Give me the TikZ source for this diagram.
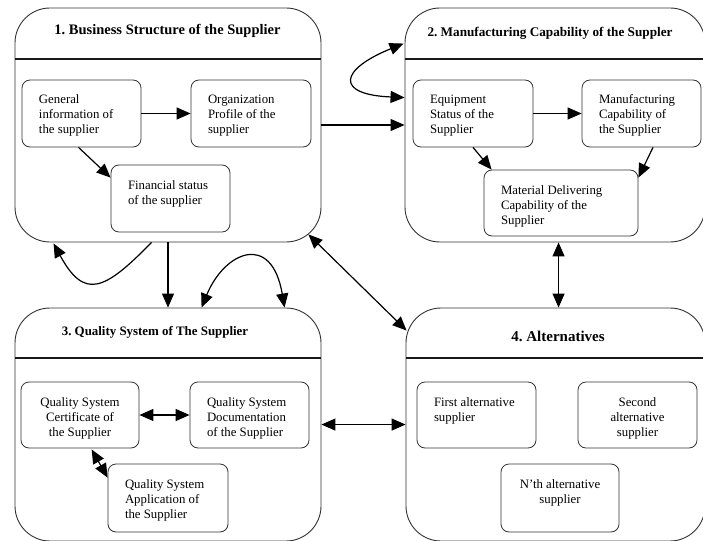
\documentclass[tikz,border=0pt]{standalone}
\usepackage{fontspec}
\setmainfont{Liberation Serif}
\usetikzlibrary{arrows.meta,calc}
\frenchspacing

% text inside a sub-box: fixed size, first baseline 24pt below the top
\newcommand\boxleft[3][67pt]{\parbox[c][#1][t]{#2}{\raggedright\leftskip=17pt\rule{0pt}{24pt}#3}}
\newcommand\boxmid[3][67pt]{\parbox[c][#1][t]{#2}{\centering\rule{0pt}{24pt}#3}}

\begin{document}
\begin{tikzpicture}[x=1pt,y=-1pt,
  group/.style={draw=black!80, line width=0.9pt, rounded corners=35pt, inner sep=0pt},
  sub/.style={draw=black!80, line width=0.8pt, rounded corners=8pt, inner sep=0pt,
    font=\fontsize{12.8}{15}\selectfont},
  rule/.style={draw=black!90, line width=1.1pt},
  tip/.style={Triangle[length=14pt,width=12pt]},
  link/.style={line width=1.2pt, -{Triangle[length=14pt,width=12pt]}},
  both/.style={line width=1.2pt, {Triangle[length=14pt,width=12pt]}-{Triangle[length=14pt,width=12pt]}}
]
\useasboundingbox (0,0) rectangle (703,540);
\clip (0,0) rectangle (703,540);

% the four groups
\node[group, minimum width=306pt, minimum height=234pt] (b1) at (168,125) {};
\node[group, minimum width=300pt, minimum height=234pt] (b2) at (555,125) {};
\node[group, minimum width=306pt, minimum height=233pt] (b3) at (168,424.5) {};
\node[group, minimum width=299pt, minimum height=233pt] (b4) at (555.5,424.5) {};

\draw[rule] (b1.west |- 0,59) -- (b1.east |- 0,59);
\draw[rule] (b2.west |- 0,59) -- (b2.east |- 0,59);
\draw[rule] (b3.west |- 0,358) -- (b3.east |- 0,358);
\draw[rule] (b4.west |- 0,358) -- (b4.east |- 0,358);

\node[font=\fontsize{14.5}{16}\selectfont\bfseries] (t1) at (167.5,31) {1. Business Structure of the Supplier};
\node[font=\fontsize{13.2}{15}\selectfont\bfseries] (t2) at (550,33) {2. Manufacturing Capability of the Suppler};
\node[font=\fontsize{12.9}{15}\selectfont\bfseries] (t3) at (155,332) {3. Quality System of The Supplier};
\node[font=\fontsize{15}{17}\selectfont\bfseries] (t4) at (558,336) {4. Alternatives};

% 1. business structure
\node[sub] (gen) at (81.5,113.5) {\boxleft{119pt}{General\\information of\\the supplier}};
\node[sub] (org) at (251,113.5) {\boxleft{120pt}{Organization\\Profile of the\\supplier}};
\node[sub] (fin) at (170.5,198.5) {\boxleft{119pt}{Financial status\\of the supplier}};

% 2. manufacturing capability
\node[sub] (equip) at (473,113.5) {\boxleft{120pt}{Equipment\\Status of the\\Supplier}};
\node[sub] (manu) at (641.5,113.5) {\boxleft{119pt}{Manufacturing\\Capability of\\the Supplier}};
\node[sub] (mat) at (561,203) {\boxleft[66pt]{154pt}{Material Delivering\\Capability of the\\Supplier}};

% 3. quality system
\node[sub] (cert) at (80,415) {\boxmid[66pt]{118pt}{Quality System\\Certificate of\\the Supplier}};
\node[sub] (doc) at (249.5,415) {\boxleft[66pt]{119pt}{Quality System\\Documentation\\of the Supplier}};
\node[sub] (app) at (168,498) {\boxleft[68pt]{120pt}{Quality System\\Application of\\the Supplier}};

% 4. alternatives
\node[sub] (first) at (476.5,415) {\boxleft[66pt]{119pt}{First alternative\\supplier}};
\node[sub] (second) at (637.5,415) {\boxmid[66pt]{119pt}{Second\\alternative\\supplier}};
\node[sub] (nth) at (560,498) {\boxmid[68pt]{118pt}{N'th alternative\\supplier}};

% links inside the groups
\draw[link] (gen.east) -- (org.west);
\draw[link] ($(gen.south)+(-3,0)$) -- ($(fin.north west)+(0,13)$);
\draw[link] (equip.east) -- (manu.west);
\draw[link] (equip.south) -- ($(mat.north west)+(8,0)$);
\draw[link] ($(manu.south)+(11.5,0)$) -- ($(mat.north east)+(0,8)$);
\draw[both] (cert.east) -- (doc.west);
\draw[both] ($(cert.south west)+(71,1)$) -- ($(app.north west)+(0,14)$);

% links between the groups
\draw[link] (b1.east) -- (b2.west);
\draw[link] (b1.south) -- (b3.north);
\draw[both] ($(b1.south east)+(-13,-8)$) -- ($(b4.north west)+(1,23)$);
\draw[both] ($(b2.south west)+(154,0)$) -- ($(b4.north west)+(153,0)$);
\draw[both] ($(b3.north east)+(0,117)$) -- ($(b4.north west)+(0,117)$);

% feedback loops
\draw[both] ($(b2.north west)+(-1,36)$) .. controls +(-64,26) and +(-70,-3) .. ($(b2.north west)+(0,90)$);
\draw[link] ($(b1.south west)+(137,0)$) .. controls +(-47,48) and +(31,57) .. ($(b1.south west)+(39,1)$);
\draw[both] ($(b3.north west)+(187,0)$) .. controls +(23,-56) and +(-13,-76) .. ($(b3.north west)+(270,0)$);
\end{tikzpicture}
\end{document}
